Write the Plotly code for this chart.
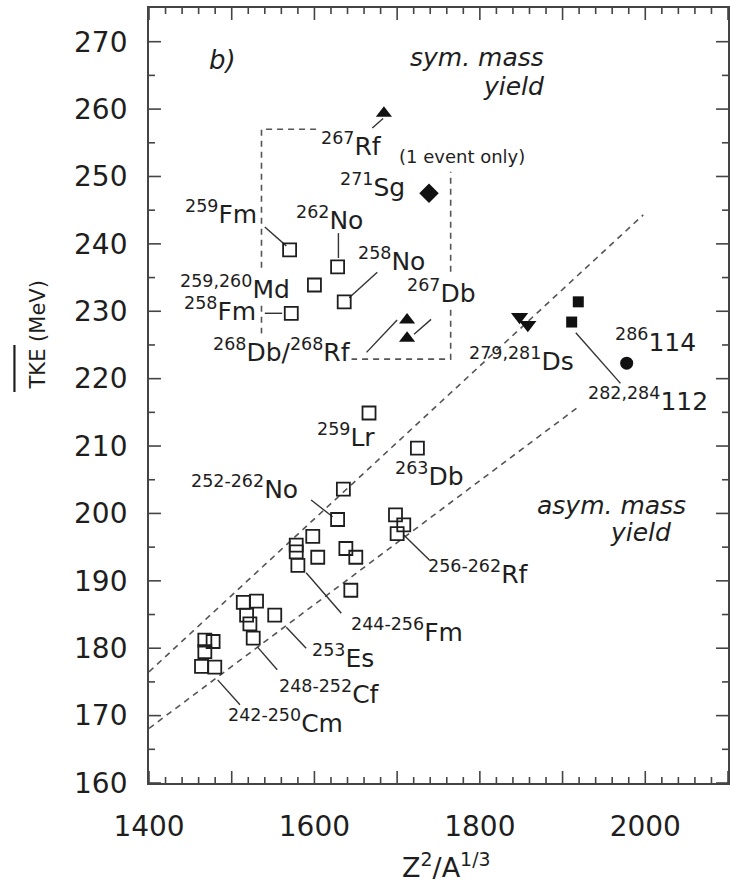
import plotly.graph_objects as go

# ---- measured nuclides: mean total kinetic energy vs Coulomb parameter ----
# open squares: spontaneous fission of the actinides / light transactinides
open_x = [1570, 1628, 1600, 1636, 1572, 1666, 1724.5,
          1635, 1628,
          1698, 1708, 1700,
          1598, 1578, 1578, 1604, 1580, 1638, 1650, 1644,
          1514, 1530, 1518, 1522, 1526,
          1552,
          1467.5, 1477.5, 1467.5, 1463.5, 1479.5]
open_y = [239.1, 236.6, 233.9, 231.4, 229.7, 214.9, 209.7,
          203.6, 199.1,
          199.8, 198.3, 197.0,
          196.6, 195.3, 194.3, 193.5, 192.3, 194.8, 193.5, 188.6,
          186.8, 187.0, 184.9, 183.6, 181.5,
          184.9,
          181.2, 181.0, 179.5, 177.3, 177.2]

# filled symbols: superheavy nuclei
rf_db_x = [1684, 1712, 1712]          # 267Rf, 268Db / 268Rf
rf_db_y = [259.4, 228.7, 226.0]
sg_x = [1738.5]                        # 271Sg
sg_y = [247.5]
ds_x = [1848, 1858]                    # 279,281Ds
ds_y = [229.2, 228.0]
cn_x = [1919, 1911]                    # 282,284(112)
cn_y = [231.4, 228.4]
fl_x = [1977.5]                        # 286(114)
fl_y = [222.3]

# dashed guide lines separating symmetric / asymmetric mass yield
upper_x = [1400, 1997.5]
upper_y = [176.5, 244.3]
lower_x = [1400, 1919]
lower_y = [168.1, 215.8]

# dashed frame around the symmetric-fission group
box_x = [1602, 1536, 1536, 1764.7, 1764.7]
box_y = [257.0, 257.0, 222.9, 222.9, 250.7]

# nuclide labels and their anchor points
label_text = ["<sup>267</sup>Rf", "<sup>271</sup>Sg", "<sup>259</sup>Fm",
              "<sup>262</sup>No", "<sup>259,260</sup>Md", "<sup>258</sup>No",
              "<sup>258</sup>Fm", "<sup>267</sup>Db",
              "<sup>268</sup>Db/<sup>268</sup>Rf", "<sup>279,281</sup>Ds",
              "<sup>286</sup>114", "<sup>282,284</sup>112", "<sup>259</sup>Lr",
              "<sup>263</sup>Db", "<sup>252-262</sup>No", "<sup>256-262</sup>Rf",
              "<sup>244-256</sup>Fm", "<sup>253</sup>Es", "<sup>248-252</sup>Cf",
              "<sup>242-250</sup>Cm"]
label_x = [1644.6, 1669.9, 1486.7, 1618.1, 1503.6, 1692.8, 1485.5, 1754.2,
           1560.2, 1850.6, 2012, 2003.6, 1638.6, 1738.6, 1515.7, 1797.6,
           1712, 1634.9, 1618.1, 1565.1]
label_y = [254.7, 248.7, 244.7, 243.7, 233.6, 237.7, 230.2, 233.0,
           224.2, 222.9, 225.6, 216.9, 211.5, 205.8, 203.9, 191.2,
           182.7, 178.8, 173.5, 169.1]
# labels drawn on an opaque backing so the dashed frame passes behind them
label_masked = ["<sup>259,260</sup>Md", "<sup>267</sup>Db",
                "<sup>268</sup>Db/<sup>268</sup>Rf"]

# leader lines from labels to points: (x0, y0, x1, y1)
leaders = [(1670, 257.2, 1683, 258.6),
           (1540, 242.5, 1566, 239.7),
           (1629, 241.6, 1629, 237.9),
           (1642, 232.0, 1676, 235.8),
           (1540, 229.7, 1561, 229.7),
           (1741, 228.8, 1720.5, 226.6),
           (1663, 223.9, 1700, 228.7),
           (1916, 226.8, 1970, 219.3),
           (1596, 202.0, 1622, 199.5),
           (1708, 196.8, 1739, 193.1),
           (1590, 191.2, 1632.5, 185.2),
           (1566, 183.1, 1590, 180.0),
           (1531, 180.2, 1555, 176.8),
           (1483, 175.3, 1510, 171.6)]

x_range = [1400, 2100]
y_range = [160, 275]
x_tickvals = [1400, 1500, 1600, 1700, 1800, 1900, 2000, 2100]
x_ticktext = ["1400", "", "1600", "", "1800", "", "2000", ""]
x_minor = [v for v in range(1400, 2101, 20) if v % 100]
y_tickvals = [160, 170, 180, 190, 200, 210, 220, 230, 240, 250, 260, 270]
y_ticktext = [str(v) for v in y_tickvals]
y_minor = [v for v in range(165, 275, 10)]

INK = "#1e1e1e"
FRAME = "#444444"
FONT = "DejaVu Sans"

W, H = 731, 888
M_L, M_R, M_T, M_B = 149, 1, 8, 105
PX_X = (x_range[1] - x_range[0]) / (W - M_L - M_R)   # data units per pixel
PX_Y = (y_range[1] - y_range[0]) / (H - M_T - M_B)

fig = go.Figure()

# inward tick marks on all four sides of the frame
def tick_segments(xvals, yvals, major_len, minor_len):
    segs = []
    for xs, ln in [(xvals[0], major_len), (xvals[1], minor_len)]:
        dy = ln * PX_Y
        for v in xs:
            segs.append((v, y_range[0], v, y_range[0] + dy))
            segs.append((v, y_range[1], v, y_range[1] - dy))
    for ys, ln in [(yvals[0], major_len), (yvals[1], minor_len)]:
        dx = ln * PX_X
        for v in ys:
            segs.append((x_range[0], v, x_range[0] + dx, v))
            segs.append((x_range[1], v, x_range[1] - dx, v))
    tx, ty = [], []
    for x0, y0, x1, y1 in segs:
        tx += [x0, x1, None]
        ty += [y0, y1, None]
    return tx, ty

tx, ty = tick_segments((x_tickvals, x_minor), (y_tickvals, y_minor), 12, 6)
fig.add_trace(go.Scatter(x=tx, y=ty, mode="lines",
                         line=dict(color=FRAME, width=1.6), hoverinfo="skip"))

for xs, ys in [(upper_x, upper_y), (lower_x, lower_y)]:
    fig.add_trace(go.Scatter(x=xs, y=ys, mode="lines",
                             line=dict(color="#555555", width=1.6, dash="6px,5px"),
                             hoverinfo="skip"))

fig.add_trace(go.Scatter(x=box_x, y=box_y, mode="lines",
                         line=dict(color="#555555", width=1.6, dash="6px,5px"),
                         hoverinfo="skip"))

lx, ly = [], []
for x0, y0, x1, y1 in leaders:
    lx += [x0, x1, None]
    ly += [y0, y1, None]
fig.add_trace(go.Scatter(x=lx, y=ly, mode="lines",
                         line=dict(color="#333333", width=1.4),
                         hoverinfo="skip"))

fig.add_trace(go.Scatter(x=open_x, y=open_y, mode="markers",
                         marker=dict(symbol="square-open", size=13, color=INK,
                                     line=dict(width=1.8))))
fig.add_trace(go.Scatter(x=rf_db_x, y=rf_db_y, mode="markers",
                         marker=dict(symbol="triangle-up", size=14, color="#111")))
fig.add_trace(go.Scatter(x=sg_x, y=sg_y, mode="markers",
                         marker=dict(symbol="diamond", size=15, color="#111")))
fig.add_trace(go.Scatter(x=ds_x, y=ds_y, mode="markers",
                         marker=dict(symbol="triangle-down", size=15, color="#111")))
fig.add_trace(go.Scatter(x=cn_x, y=cn_y, mode="markers",
                         marker=dict(symbol="square", size=11, color="#111")))
fig.add_trace(go.Scatter(x=fl_x, y=fl_y, mode="markers",
                         marker=dict(symbol="circle", size=13, color="#111")))

annotations = []
for t, x, y in zip(label_text, label_x, label_y):
    annotations.append(dict(x=x, y=y, xref="x", yref="y", text=t,
                            showarrow=False, xanchor="center", yanchor="middle",
                            font=dict(family=FONT, size=25, color=INK),
                            bgcolor="white" if t in label_masked else None,
                            borderpad=0))

annotations += [
    dict(x=1700, y=252.9, xref="x", yref="y", text="(1 event only)",
         showarrow=False, xanchor="left", yanchor="middle",
         font=dict(family=FONT, size=18, color=INK)),
    dict(x=1489, y=267.3, xref="x", yref="y", text="<i>b)</i>",
         showarrow=False, font=dict(family=FONT, size=26, color=INK)),
    dict(x=1879.5, y=267.7, xref="x", yref="y", text="<i>sym. mass</i>",
         showarrow=False, xanchor="right", font=dict(family=FONT, size=25, color=INK)),
    dict(x=1879.5, y=263.3, xref="x", yref="y", text="<i>yield</i>",
         showarrow=False, xanchor="right", font=dict(family=FONT, size=25, color=INK)),
    dict(x=2051.8, y=201.2, xref="x", yref="y", text="<i>asym. mass</i>",
         showarrow=False, xanchor="right", font=dict(family=FONT, size=25, color=INK)),
    dict(x=2033.7, y=197.2, xref="x", yref="y", text="<i>yield</i>",
         showarrow=False, xanchor="right", font=dict(family=FONT, size=25, color=INK)),
    # axis titles
    dict(x=0.5146, y=-0.107, xref="paper", yref="paper",
         text="Z<sup>2</sup>/A<sup>1/3</sup>", showarrow=False,
         xanchor="center", yanchor="middle",
         font=dict(family=FONT, size=27, color=INK)),
    dict(x=-0.191, y=0.578, xref="paper", yref="paper", text="TKE (MeV)",
         textangle=-90, showarrow=False, xanchor="center", yanchor="middle",
         font=dict(family=FONT, size=21, color=INK)),
]

fig.update_layout(
    width=W, height=H, autosize=False,
    margin=dict(l=M_L, r=M_R, t=M_T, b=M_B),
    paper_bgcolor="white", plot_bgcolor="white",
    showlegend=False,
    annotations=annotations,
    shapes=[dict(type="line", xref="paper", yref="paper",
                 x0=-0.2324, x1=-0.2324, y0=0.5045, y1=0.5652,
                 line=dict(color=INK, width=2.2))],
    xaxis=dict(range=x_range, showgrid=False, zeroline=False,
               showline=True, linecolor=FRAME, linewidth=1.8, mirror=True,
               ticks="", tickmode="array", tickvals=x_tickvals, ticktext=x_ticktext,
               tickfont=dict(family=FONT, size=28, color=INK),
               ticklabelstandoff=17),
    yaxis=dict(range=y_range, showgrid=False, zeroline=False,
               showline=True, linecolor=FRAME, linewidth=1.8, mirror=True,
               ticks="", tickmode="array", tickvals=y_tickvals, ticktext=y_ticktext,
               tickfont=dict(family=FONT, size=28, color=INK),
               ticklabelstandoff=14),
)

fig.write_html("out.html")
